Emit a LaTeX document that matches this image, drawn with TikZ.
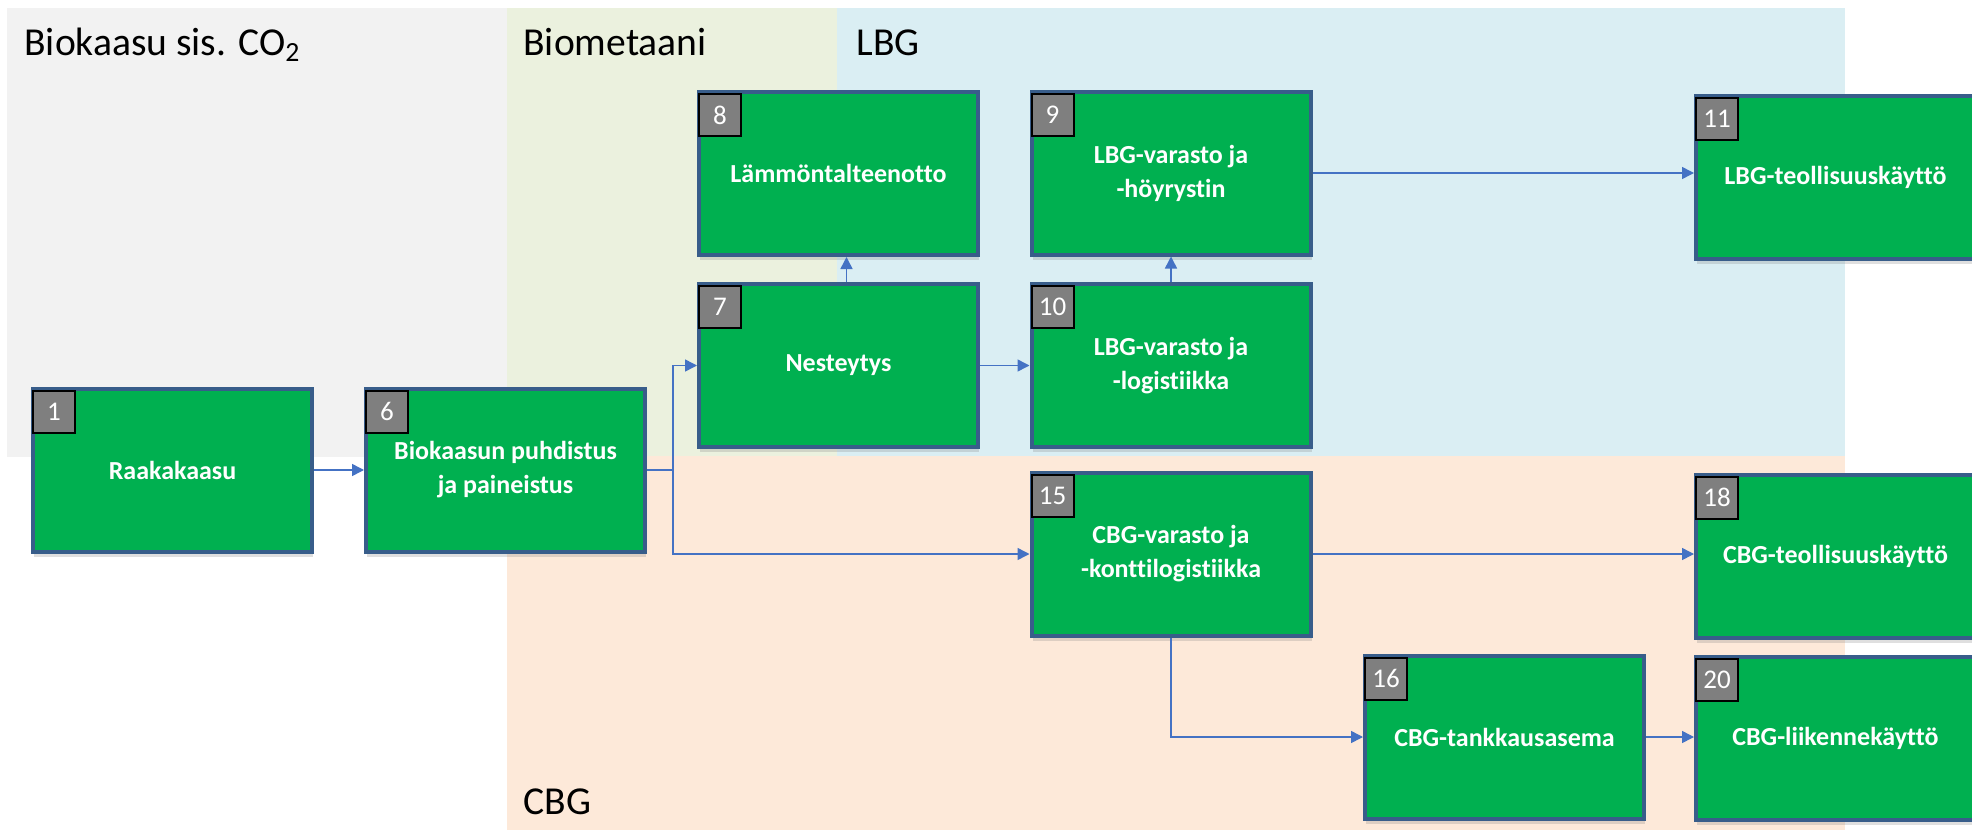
\documentclass[tikz,border=0pt]{standalone}
\usepackage{fontspec}
\setmainfont{Carlito}[Ligatures=NoCommon]
\usetikzlibrary{arrows.meta,shadows,calc}
\definecolor{bgGrey}{HTML}{F2F2F2}
\definecolor{bgOlive}{HTML}{EBF1DE}
\definecolor{bgBlue}{HTML}{DAEEF3}
\definecolor{bgOrange}{HTML}{FDE9D9}
\definecolor{boxGreen}{HTML}{00B050}
\definecolor{boxBorder}{HTML}{385D8A}
\definecolor{badgeGrey}{HTML}{7F7F7F}
\definecolor{arrowBlue}{HTML}{4472C4}
\begin{document}
\begin{tikzpicture}[x=0.5pt,y=-0.5pt,
  procbox/.style={draw=boxBorder, line width=2pt, fill=boxGreen, minimum width=139.5pt, minimum height=81.5pt, inner sep=0pt, align=center, text=white, font=\fontsize{13pt}{17pt}\selectfont\bfseries, drop shadow={shadow xshift=0.5pt,shadow yshift=-2.5pt,opacity=0.25}},
  badge/.style={draw=black, line width=1pt, fill=badgeGrey, minimum width=21pt, minimum height=21pt, inner sep=0pt, text=white, font=\fontsize{13.5pt}{13.5pt}\selectfont, anchor=north west},
  flow/.style={draw=arrowBlue, line width=0.75pt, -{Triangle[length=6pt,width=6pt]}},
  region/.style={font=\fontsize{19.8pt}{22pt}\selectfont, anchor=base west, inner sep=0pt, text=black}
]
\clip (0,0) rectangle (1972,830);
\fill[white] (0,0) rectangle (1972,830);
% background regions
\fill[bgGrey] (7,8) rectangle (507,457);
\fill[bgOlive] (507,8) rectangle (837,456);
\fill[bgBlue] (837,8) rectangle (1845,456);
\fill[bgOrange] (507,456) rectangle (1845,830);
% region titles
\node[region] (tco2) at (24,55) {Biokaasu sis. CO\textsubscript{2}};
\node[region] (tbio) at (523,55) {Biometaani};
\node[region] (tlbg) at (856,55) {LBG};
\node[region] (tcbg) at (523,814) {CBG};
% process boxes
\node[procbox] (n1) at (172.5,470) {Raakakaasu};
\node[procbox] (n6) at (505.5,470) {Biokaasun puhdistus\\ja paineistus};
\node[procbox] (n7) at (838.5,365.5) {Nesteytys};
\node[procbox] (n8) at (838.5,173.5) {Lämmöntalteenotto};
\node[procbox] (n9) at (1171,173) {LBG-varasto ja\\-höyrystin};
\node[procbox] (n10) at (1171,365.5) {LBG-varasto ja\\-logistiikka};
\node[procbox] (n11) at (1835.5,177) {LBG-teollisuuskäyttö};
\node[procbox] (n15) at (1171,554) {CBG-varasto ja\\-konttilogistiikka};
\node[procbox] (n18) at (1835.5,556) {CBG-teollisuuskäyttö};
\node[procbox] (n16) at (1504.5,737) {CBG-tankkausasema};
\node[procbox] (n20) at (1835.5,738) {CBG-liikennekäyttö};
% number badges
\foreach \n in {1,6,7,8,9,10,11,15,18,16,20}{
  \node[badge] (b\n) at ([xshift=0.5pt,yshift=-1.5pt]n\n.north west) {\n};
}
% connectors
\coordinate (split) at ($(n6.east)+(13pt,0)$);
\draw[flow] (n1.east) -- (n6.west);
\draw[arrowBlue, line width=0.75pt] (n6.east) -- (split);
\draw[flow] (split) |- (n7.west);
\draw[flow] (split) |- (n15.west);
\draw[flow] (n7.east) -- (n7.east -| n10.west);
\draw[flow] ([xshift=4pt]n7.north) -- ([xshift=4pt]n8.south);
\draw[flow] (n10.north) -- (n9.south);
\draw[flow] (n9.east) -- (n9.east -| n11.west);
\draw[flow] (n15.east) -- (n15.east -| n18.west);
\draw[flow] (n15.south) |- (n16.west);
\draw[flow] (n16.east) -- (n16.east -| n20.west);
\end{tikzpicture}
\end{document}
